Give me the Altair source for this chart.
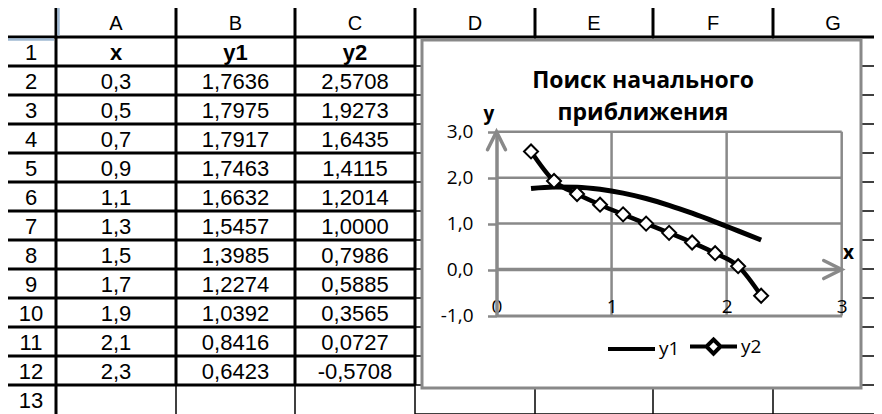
import altair as alt
import pandas as pd

# ---------------- data read from the sheet ----------------
x_vals = [0.3, 0.5, 0.7, 0.9, 1.1, 1.3, 1.5, 1.7, 1.9, 2.1, 2.3]
y1_vals = [1.7636, 1.7975, 1.7917, 1.7463, 1.6632, 1.5457, 1.3985, 1.2274, 1.0392, 0.8416, 0.6423]
y2_vals = [2.5708, 1.9273, 1.6435, 1.4115, 1.2014, 1.0000, 0.7986, 0.5885, 0.3565, 0.0727, -0.5708]
series_names = ["y1", "y2"]
col_letters = ["A", "B", "C", "D", "E", "F", "G"]
row_numbers = list(range(1, 14))
header_cells = ["x", "y1", "y2"]
chart_title = ["Поиск начального", "приближения"]
x_ticks = [0, 1, 2, 3]
y_ticks = [-1, 0, 1, 2, 3]

# ---------------- layout (screen pixels) ----------------
W, H, M = 866, 406, 8
col_edges = [6, 56, 176, 295, 415, 535, 653, 773, 893]
row_edges = [6] + [37 + 29 * i for i in range(14)]
frame_box = dict(x=422, x2=861, y=40, y2=388)
plot_x = [496.5, 841.7]   # pixel of x=0 and x=3
plot_y = [315.5, 131.7]   # pixel of y=-1 and y=3

BLACK = "#000000"
GRAY = "#898989"
BLUE = "#9fb8d2"
SHEET_FONT = "Liberation Sans"
CHART_FONT = "Open Sans"


def fmt(v, d):
    return f"{v:.{d}f}".replace(".", ",")


# ---------------- spreadsheet grid ----------------
segs = []


def seg(x1, y1, x2, y2, w, c=BLACK):
    segs.append(dict(x1=x1, y1=y1, x2=x2, y2=y2, w=w, c=c))


right = col_edges[-1]
bottom = row_edges[-1]
top, hdr = row_edges[0], row_edges[1]
tbl_bottom = row_edges[13]
tbl_right = col_edges[4]

for r in row_edges[2:]:
    seg(tbl_right, r, right, r, 1.5)
for e in col_edges[5:8]:
    seg(e, hdr, e, bottom, 1.5)
seg(col_edges[0], top, right, top, 2.5)
seg(col_edges[0], hdr, right, hdr, 3)
for e in col_edges[:-1]:
    seg(e, top, e, hdr, 3)
seg(col_edges[0], hdr, col_edges[0], bottom, 3)
seg(col_edges[1], hdr, col_edges[1], bottom, 3)
for r in row_edges[2:14]:
    seg(col_edges[0], r, tbl_right, r, 3)
for e in col_edges[2:5]:
    seg(e, hdr, e, tbl_bottom, 3)
    seg(e, tbl_bottom, e, bottom, 1.5)
seg(58.5, top + 1.5, 58.5, hdr - 1.5, 2.5, BLUE)
seg(col_edges[0] + 1.5, hdr + 2.5, col_edges[1] - 2, hdr + 2.5, 2.5, BLUE)
seg_df = pd.DataFrame(segs)

texts = []
for i, L in enumerate(col_letters):
    texts.append(dict(tx=(col_edges[i + 1] + col_edges[i + 2]) / 2, ty=hdr - 7, label=L, kind="col"))
for i, n in enumerate(row_numbers):
    texts.append(dict(tx=(col_edges[0] + col_edges[1]) / 2, ty=row_edges[i + 2] - 6, label=str(n), kind="row"))
for k, h in enumerate(header_cells):
    texts.append(dict(tx=(col_edges[k + 1] + col_edges[k + 2]) / 2, ty=row_edges[2] - 6, label=h, kind="bold"))
for i in range(len(x_vals)):
    vals = [fmt(x_vals[i], 1), fmt(y1_vals[i], 4), fmt(y2_vals[i], 4)]
    for k, s in enumerate(vals):
        texts.append(dict(tx=(col_edges[k + 1] + col_edges[k + 2]) / 2, ty=row_edges[i + 3] - 6, label=s, kind="cell"))
text_df = pd.DataFrame(texts)

sx = alt.Scale(domain=[M, M + W], range=[0, W], nice=False, zero=False)
sy = alt.Scale(domain=[M, M + H], range=[0, H], nice=False, zero=False)

sheet_lines = alt.Chart(seg_df).mark_rule().encode(
    x=alt.X("x1:Q", scale=sx, axis=None), x2="x2:Q",
    y=alt.Y("y1:Q", scale=sy, axis=None), y2="y2:Q",
    strokeWidth=alt.StrokeWidth("w:Q", scale=None),
    color=alt.Color("c:N", scale=None),
)

box = alt.Chart(pd.DataFrame([frame_box])).mark_rect(fill="white", stroke=GRAY, strokeWidth=3).encode(
    x=alt.X("x:Q", scale=sx, axis=None), x2="x2:Q",
    y=alt.Y("y:Q", scale=sy, axis=None), y2="y2:Q",
)


def sheet_text(kind, size, weight="normal"):
    return alt.Chart(text_df).transform_filter(alt.datum.kind == kind).mark_text(
        font=SHEET_FONT, fontSize=size, fontWeight=weight, color="black",
        align="center", baseline="alphabetic",
    ).encode(
        x=alt.X("tx:Q", scale=sx, axis=None),
        y=alt.Y("ty:Q", scale=sy, axis=None),
        text="label:N",
    )


sheet = alt.layer(
    sheet_lines, box,
    sheet_text("col", 20), sheet_text("row", 22), sheet_text("bold", 22, "bold"), sheet_text("cell", 22),
)

# ---------------- embedded chart ----------------
cx = alt.Scale(domain=[x_ticks[0], x_ticks[-1]], range=[plot_x[0] - M, plot_x[1] - M], nice=False, zero=False)
cy = alt.Scale(domain=[y_ticks[0], y_ticks[-1]], range=[plot_y[0] - M, plot_y[1] - M], nice=False, zero=False)

x_axis = alt.Axis(
    orient="bottom", offset=(plot_y[0] - M) - H, values=x_ticks, format="d",
    ticks=False, tickSize=0, grid=False, domain=True, domainColor=GRAY, domainWidth=3,
    labelFont=CHART_FONT, labelFontSize=19, labelColor="black", labelPadding=-3,
    labelBaseline="alphabetic", labelAlign="center", labelFlush=False, labelOverlap=False,
    title="x", titleFont=CHART_FONT, titleFontSize=19, titleFontWeight="bold", titleColor="black",
    titleX=840, titleY=-57.5, titleAlign="center", titleBaseline="alphabetic", titleAngle=0,
    zindex=1,
)
y_axis = alt.Axis(
    orient="left", offset=-(plot_x[0] - M), values=y_ticks,
    labelExpr="replace(replace(format(datum.value, '.1f'), '.', ','), '\u2212', '-')",
    ticks=True, tickSize=9, tickColor=GRAY, tickWidth=2.5, grid=False,
    domain=True, domainColor=GRAY, domainWidth=3.5,
    labelFont=CHART_FONT, labelFontSize=19, labelColor="black", labelPadding=14.5,
    labelOverlap=False, labelFlush=False,
    title="y", titleFont=CHART_FONT, titleFontSize=19, titleFontWeight="bold", titleColor="black",
    titleX=-8, titleY=111, titleAlign="center", titleBaseline="alphabetic", titleAngle=0,
    zindex=1,
)

grid_rows = []
for v in y_ticks:
    if v > 0:
        grid_rows.append(dict(x=x_ticks[0], x2=x_ticks[-1], y=v, y2=v))
for v in x_ticks:
    if v > 0:
        grid_rows.append(dict(x=v, x2=v, y=y_ticks[0], y2=y_ticks[-1]))
grid_df = pd.DataFrame(grid_rows)

X = alt.X("x:Q", scale=cx, axis=x_axis)
Y = alt.Y("y:Q", scale=cy, axis=y_axis)

grid = alt.Chart(grid_df).mark_rule(color=GRAY, strokeWidth=2.5).encode(x=X, x2="x2:Q", y=Y, y2="y2:Q")
zero_line = alt.Chart(pd.DataFrame([dict(x=x_ticks[0], x2=x_ticks[-1], y=0, y2=0)])).mark_rule(
    color=GRAY, strokeWidth=3.5).encode(x=X, x2="x2:Q", y=Y, y2="y2:Q")
x_arrow = alt.Chart(pd.DataFrame([dict(x=x_ticks[-1], y=0)])).mark_point(
    shape="M-2,-1L0,0L-2,1", filled=False, stroke=GRAY, strokeWidth=3.5, size=324, opacity=1,
    strokeCap="round").encode(x=X, y=Y)
y_arrow = alt.Chart(pd.DataFrame([dict(x=0, y=y_ticks[-1])])).mark_point(
    shape="M-1,2L0,0L1,2", filled=False, stroke=GRAY, strokeWidth=3.5, size=324, opacity=1,
    strokeCap="round").encode(x=X, y=Y)

long_df = pd.DataFrame({
    "x": x_vals + x_vals,
    "y": y1_vals + y2_vals,
    "series": ["y1"] * len(x_vals) + ["y2"] * len(x_vals),
})
base = alt.Chart(long_df)
line_y1 = base.transform_filter(alt.datum.series == "y1").mark_line(
    color="black", strokeWidth=5, interpolate="monotone").encode(x=X, y=Y)
line_y2 = base.transform_filter(alt.datum.series == "y2").mark_line(
    color="black", strokeWidth=4.5, interpolate="monotone").encode(x=X, y=Y)
pts_y2 = base.transform_filter(alt.datum.series == "y2").mark_point(
    shape="diamond", filled=True, fill="white", stroke="black", strokeWidth=2, size=196, opacity=1
).encode(x=X, y=Y)

legend_paths = [
    "M-1,0L1,0",
    "M-1,0L-0.3,0M0.3,0L1,0M0,-0.3L0.3,0L0,0.3L-0.3,0Z",
]
legend_layer = base.transform_filter("false").mark_point(
    filled=False, color="black", strokeWidth=4, opacity=1
).encode(
    x=X, y=Y,
    shape=alt.Shape("series:N", scale=alt.Scale(domain=series_names, range=legend_paths),
                    legend=alt.Legend(
                        orient="none", legendX=598, legendY=312.8, direction="horizontal", title=None,
                        labelFont=CHART_FONT, labelFontSize=19, labelColor="black",
                        symbolSize=2209, symbolStrokeColor="black",
                        symbolStrokeWidth=4, symbolOpacity=1, labelOffset=2, columnPadding=2, padding=0,
                    )),
)

chart_part = alt.layer(grid, zero_line, x_arrow, y_arrow, line_y1, line_y2, pts_y2, legend_layer)

chart = alt.layer(sheet, chart_part).resolve_scale(x="independent", y="independent").properties(
    width=W, height=H, padding=0,
    autosize=alt.AutoSizeParams(type="none"),
    background="white",
    title=alt.TitleParams(
        text=chart_title, font=CHART_FONT, fontSize=23, fontWeight="bold", color="black",
        anchor="middle", frame="group", dx=202, dy=138, offset=0, baseline="alphabetic", lineHeight=32,
    ),
).configure_view(stroke=None)

chart.save("out.html", embed_options={"renderer": "svg", "actions": False})
